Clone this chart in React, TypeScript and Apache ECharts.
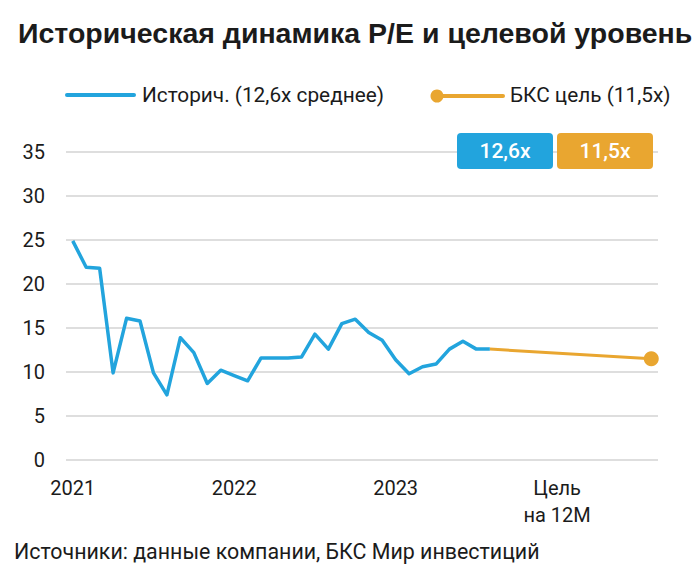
import React, { useEffect, useRef } from "react";
import * as echarts from "echarts";

const months: string[] = [
  "2021-01", "2021-02", "2021-03", "2021-04", "2021-05", "2021-06", "2021-07", "2021-08", "2021-09", "2021-10", "2021-11", "2021-12",
  "2022-01", "2022-02", "2022-03", "2022-04", "2022-05", "2022-06", "2022-07", "2022-08", "2022-09", "2022-10", "2022-11", "2022-12",
  "2023-01", "2023-02", "2023-03", "2023-04", "2023-05", "2023-06", "2023-07", "2023-08", "2023-09", "2023-10", "2023-11", "2023-12",
  "2024-01", "2024-02", "2024-03", "2024-04", "2024-05", "2024-06", "2024-07", "2024-08",
];

const historical: number[] = [
  24.9, 21.9, 21.8, 9.9, 16.1, 15.8, 9.9, 7.4, 13.9, 12.2, 8.7, 10.2,
  9.6, 9.0, 11.6, 11.6, 11.6, 11.7, 14.3, 12.6, 15.5, 16.0, 14.5, 13.6,
  11.4, 9.8, 10.6, 10.9, 12.6, 13.5, 12.6, 12.6,
];

const targetStart = { month: "2023-08", value: 12.6 };
const targetEnd = { month: "2024-08", value: 11.5 };

const xTickLabels: Record<string, string> = {
  "2021-01": "2021",
  "2022-01": "2022",
  "2023-01": "2023",
  "2024-01": "Цель\nна 12М",
};

const yTicks = { min: 0, max: 35, interval: 5 };

const legendNames = ["Историч. (12,6x среднее)", "БКС цель (11,5x)"];
const badgeLabels = ["12,6x", "11,5x"];
const titleText = "Историческая динамика P/E и целевой уровень";
const sourceText = "Источники: данные компании, БКС Мир инвестиций";

const BLUE = "#22a4dd";
const ORANGE = "#e9a630";
const TEXT = "#1b1b1b";
const FONT = "Roboto, 'Noto Sans', sans-serif";
const TITLE_FONT = "'Liberation Sans', Arial, sans-serif";

export default function App() {
  const ref = useRef<HTMLDivElement>(null);

  useEffect(() => {
    if (!ref.current) return;
    const chart = echarts.init(ref.current, undefined, { renderer: "svg" });

    const histData = months.map((_, i) => (i < historical.length ? historical[i] : null));
    const targetData = months.map((m) => {
      if (m === targetStart.month) return { value: targetStart.value, symbol: "none" };
      if (m === targetEnd.month) return { value: targetEnd.value, symbol: "circle" };
      return null;
    });

    chart.setOption({
      animation: false,
      backgroundColor: "#ffffff",
      textStyle: { fontFamily: FONT },
      title: {
        text: titleText,
        left: 13,
        top: 13,
        textStyle: { fontSize: 28.5, fontWeight: 700, color: TEXT, fontFamily: TITLE_FONT },
      },
      grid: { left: 66, right: 42, top: 152, bottom: 118 },
      xAxis: {
        type: "category",
        data: months,
        boundaryGap: true,
        axisLine: { show: false },
        axisTick: { show: false },
        splitLine: { show: false },
        axisLabel: {
          interval: (_i: number, v: string) => v in xTickLabels,
          formatter: (v: string) => xTickLabels[v] ?? "",
          fontSize: 20,
          lineHeight: 27,
          color: TEXT,
          margin: 14,
          fontFamily: FONT,
        },
      },
      yAxis: {
        type: "value",
        min: yTicks.min,
        max: yTicks.max,
        interval: yTicks.interval,
        axisLine: { show: false },
        axisTick: { show: false },
        splitLine: { lineStyle: { color: "#d3d3d3", width: 1.5 } },
        axisLabel: { fontSize: 20, color: TEXT, margin: 21, fontFamily: FONT },
      },
      series: [
        {
          name: legendNames[0],
          type: "line",
          data: histData,
          symbol: "none",
          lineStyle: { color: BLUE, width: 3.5, join: "round" },
          itemStyle: { color: BLUE },
          z: 3,
        },
        {
          name: legendNames[1],
          type: "line",
          data: targetData,
          connectNulls: true,
          showSymbol: true,
          showAllSymbol: true,
          symbol: "circle",
          symbolSize: 15,
          lineStyle: { color: ORANGE, width: 3 },
          itemStyle: { color: ORANGE },
          z: 2,
        },
      ],
      graphic: [
        { type: "line", z: 100, shape: { x1: 67, y1: 95, x2: 134, y2: 95 }, style: { stroke: BLUE, lineWidth: 4, lineCap: "round" } },
        { type: "text", z: 100, x: 142, y: 95, style: { text: legendNames[0], fontSize: 20.8, fill: TEXT, fontFamily: FONT, verticalAlign: "middle" } },
        { type: "line", z: 100, shape: { x1: 437, y1: 96, x2: 503, y2: 96 }, style: { stroke: ORANGE, lineWidth: 4, lineCap: "round" } },
        { type: "circle", z: 100, shape: { cx: 437, cy: 96, r: 6.5 }, style: { fill: ORANGE } },
        { type: "text", z: 100, x: 510, y: 95, style: { text: legendNames[1], fontSize: 20.8, fill: TEXT, fontFamily: FONT, verticalAlign: "middle" } },
        { type: "rect", z: 100, shape: { x: 457, y: 133, width: 96, height: 36, r: 4 }, style: { fill: BLUE } },
        { type: "text", z: 101, x: 505, y: 151, style: { text: badgeLabels[0], fontSize: 21, fontWeight: 500, fill: "#ffffff", fontFamily: FONT, align: "center", verticalAlign: "middle" } },
        { type: "rect", z: 100, shape: { x: 557, y: 133, width: 96, height: 36, r: 4 }, style: { fill: ORANGE } },
        { type: "text", z: 101, x: 605, y: 151, style: { text: badgeLabels[1], fontSize: 21, fontWeight: 500, fill: "#ffffff", fontFamily: FONT, align: "center", verticalAlign: "middle" } },
        { type: "text", z: 100, x: 14, y: 551, style: { text: sourceText, fontSize: 21.4, fill: TEXT, fontFamily: FONT, verticalAlign: "middle" } },
      ],
    });

    return () => chart.dispose();
  }, []);

  return (
    <div
      ref={ref}
      style={{ position: "fixed", left: 0, top: 0, width: 700, height: 578, background: "#fff" }}
    />
  );
}
